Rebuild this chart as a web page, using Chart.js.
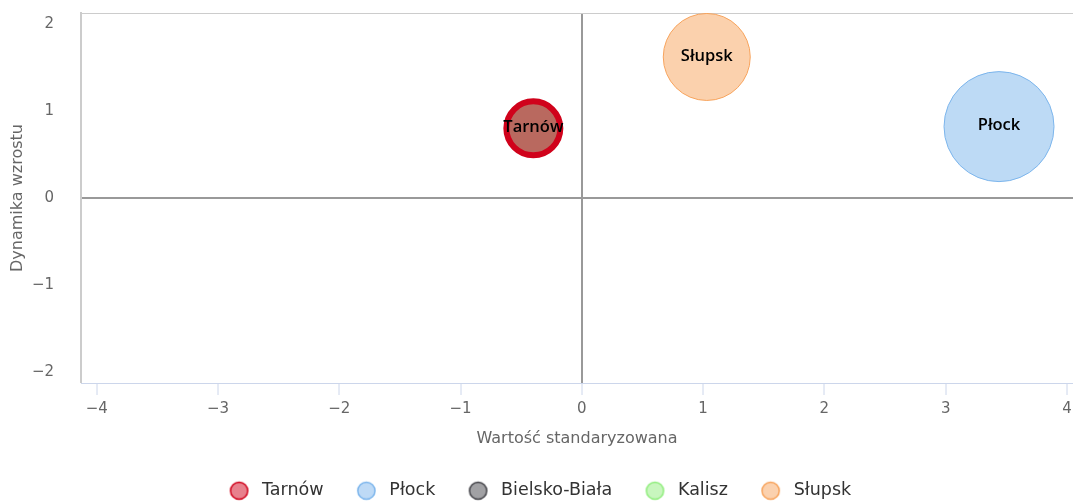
<!DOCTYPE html>
<html>
<head>
<meta charset="utf-8">
<script src="https://cdn.jsdelivr.net/npm/chart.js@4/dist/chart.umd.min.js"></script>
<style>
  html, body { margin: 0; padding: 0; background: #ffffff; }
  #wrap { width: 1074px; height: 501px; }
</style>
</head>
<body>
<div id="wrap"><canvas id="c" width="1074" height="501"></canvas></div>
<script>
// ---- data ----
const seriesNames = ['Tarnów', 'Płock', 'Bielsko-Biała', 'Kalisz', 'Słupsk'];
const xValues = [-0.40, 3.44, null, null, 1.03];   // Wartość standaryzowana
const yValues = [0.80, 0.82, null, null, 1.62];     // Dynamika wzrostu
const bubbleSizes = [27, 55, null, null, 43.5];     // bubble radius
const xTickValues = [-4, -3, -2, -1, 0, 1, 2, 3, 4];
const yTickValues = [-2, -1, 0, 1, 2];
const xTitle = 'Wartość standaryzowana';
const yTitle = 'Dynamika wzrostu';

// ---- styles ----
const borderColors = ['#d0021b', '#7cb5ec', '#434348', '#90ed7d', '#f7a35c'];
const bubbleFills = ['#b9695f', 'rgba(124,181,236,0.5)', 'rgba(67,67,72,0.5)', 'rgba(144,237,125,0.5)', 'rgba(247,163,92,0.5)'];
const legendFills = ['#e8818d', '#bedaf6', '#a1a1a4', '#c8f6be', '#fbd1ae'];
const borderWidths = [6, 1, 1, 1, 1];

const FONT = '"DejaVu Sans", sans-serif';
const LABEL_FONT = '600 16.5px "Open Sans", "DejaVu Sans", sans-serif';

const datasets = seriesNames.map((name, i) => ({
  label: name,
  data: (xValues[i] === null) ? [] : [{ x: xValues[i], y: yValues[i], r: bubbleSizes[i] }],
  backgroundColor: bubbleFills[i],
  borderColor: borderColors[i],
  borderWidth: borderWidths[i],
  hoverBorderWidth: borderWidths[i]
}));

const minus = v => String(v).replace('-', '\u2212');

// legend marker images (circle drawn left of the image centre to widen the gap before the text)
function makeMarker(fill, stroke) {
  const c = document.createElement('canvas');
  c.width = 40; c.height = 22;
  const g = c.getContext('2d');
  g.beginPath();
  g.arc(14.5, 11, 8.6, 0, Math.PI * 2);
  g.fillStyle = fill;
  g.fill();
  g.lineWidth = 1.5;
  g.strokeStyle = stroke;
  g.stroke();
  return c;
}
const legendMarkers = seriesNames.map((n, i) => makeMarker(legendFills[i], borderColors[i]));

const labelPlugin = {
  id: 'bubbleLabels',
  afterDatasetsDraw(chart) {
    const ctx = chart.ctx;
    ctx.save();
    ctx.font = LABEL_FONT;
    ctx.fillStyle = '#000000';
    ctx.textAlign = 'center';
    ctx.textBaseline = 'middle';
    chart.data.datasets.forEach((ds, i) => {
      const meta = chart.getDatasetMeta(i);
      if (meta.hidden) return;
      meta.data.forEach(el => {
        ctx.fillText(ds.label, el.x, el.y - 1);
      });
    });
    ctx.restore();
  }
};

const framePlugin = {
  id: 'frame',
  afterLayout(chart) {
    const lg = chart.legend;
    if (lg) {
      lg.top -= 6.5;
      lg.left += 7; lg.right += 7;
    }
  },
  beforeDatasetsDraw(chart) {
    const a = chart.chartArea;
    const ctx = chart.ctx;
    ctx.save();
    ctx.strokeStyle = '#cccccc';
    ctx.lineWidth = 1;
    ctx.beginPath();
    ctx.moveTo(a.left, a.top + 0.5);
    ctx.lineTo(a.right, a.top + 0.5);
    ctx.stroke();
    ctx.restore();
  }
};

new Chart(document.getElementById('c'), {
  type: 'bubble',
  data: { datasets },
  plugins: [labelPlugin, framePlugin],
  options: {
    responsive: false,
    devicePixelRatio: 1,
    animation: false,
    events: [],
    layout: { autoPadding: false, padding: { top: 13, right: 1, left: 0, bottom: 0 } },
    plugins: {
      tooltip: { enabled: false },
      legend: {
        position: 'bottom',
        maxHeight: 52,
        labels: {
          usePointStyle: true,
          padding: 39.5,
          color: '#333333',
          font: { family: FONT, size: 17.5 },
          generateLabels(chart) {
            return chart.data.datasets.map((ds, i) => ({
              text: ds.label,
              fillStyle: legendFills[i],
              strokeStyle: borderColors[i],
              lineWidth: 0,
              pointStyle: legendMarkers[i],
              hidden: false,
              datasetIndex: i,
              fontColor: '#333333'
            }));
          }
        }
      }
    },
    scales: {
      x: {
        type: 'linear',
        position: 'bottom',
        min: -4.13,
        max: 4.05,
        afterBuildTicks(s) { s.ticks = xTickValues.map(v => ({ value: v })); },
        afterFit(s) { s.height = 66; s.paddingLeft = 0; s.paddingRight = 0; },
        ticks: {
          color: '#666666',
          font: { family: FONT, size: 15 },
          padding: 5,
          maxRotation: 0,
          autoSkip: false,
          callback: v => minus(v)
        },
        grid: {
          drawOnChartArea: true,
          drawTicks: true,
          tickLength: 12,
          tickColor: '#ccd6eb',
          tickWidth: 1,
          color: c => (c.tick && c.tick.value === 0) ? '#999999' : 'rgba(0,0,0,0)',
          lineWidth: c => (c.tick && c.tick.value === 0) ? 2 : 0
        },
        border: { display: true, color: '#ccd6eb', width: 1 },
        title: {
          display: true,
          text: xTitle,
          color: '#666666',
          font: { family: FONT, size: 16 },
          padding: { top: 11, bottom: 1 }
        }
      },
      y: {
        type: 'linear',
        position: 'left',
        min: -2.125,
        max: 2.125,
        afterBuildTicks(s) { s.ticks = yTickValues.map(v => ({ value: v })); },
        afterFit(s) { s.width = 81; s.paddingTop = 0; s.paddingBottom = 0; },
        ticks: {
          color: '#666666',
          font: { family: FONT, size: 15 },
          padding: 27,
          callback: v => minus(v)
        },
        grid: {
          drawOnChartArea: true,
          drawTicks: false,
          color: c => (c.tick && c.tick.value === 0) ? '#999999' : 'rgba(0,0,0,0)',
          lineWidth: c => (c.tick && c.tick.value === 0) ? 2 : 0
        },
        border: { display: true, color: '#cccccc', width: 2 },
        title: {
          display: true,
          text: yTitle,
          color: '#666666',
          font: { family: FONT, size: 16 },
          padding: { top: 8, bottom: 0 }
        }
      }
    }
  }
});
</script>
</body>
</html>
